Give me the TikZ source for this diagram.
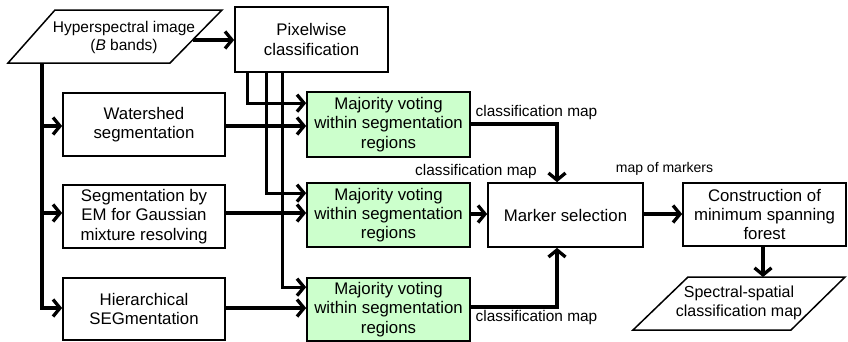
\documentclass[tikz,border=0pt]{standalone}
\usepackage{fontspec}
\setmainfont{Liberation Sans}
\usetikzlibrary{arrows.meta,calc}
\definecolor{vgreen}{HTML}{CCFFCC}
\begin{document}
\begin{tikzpicture}[x=1pt,y=-1pt,
  box/.style={draw=black,line width=1.7pt,rectangle,inner sep=0pt,align=center,
    font=\fontsize{16.8}{19.2}\selectfont},
  vote/.style={box,fill=vgreen},
  arr/.style={line width=3.3pt,-{Straight Barb[length=7pt,width=17pt]}},
  lbl/.style={font=\fontsize{15.4}{18}\selectfont,inner sep=0pt},
  pgram/.style={draw=black,line width=1.5pt,line join=miter}
]
\useasboundingbox (0,0) rectangle (848,341);
\fill[white] (0,0) rectangle (848,341);

% input parallelogram
\draw[pgram] (55,10) -- (222,10) -- (170,63) -- (8,63) -- cycle;
\node[align=center,inner sep=0pt,font=\fontsize{15.5}{18}\selectfont] (hs) at (124,37)
  {Hyperspectral image\\(\textit{B} bands)};
\coordinate (hsr) at (193,40);
\coordinate (hsb) at (42,63);

% boxes
\node[box,minimum width=153pt,minimum height=65pt] (pix) at (311.5,39.5) {Pixelwise\\classification};
\node[box,minimum width=162pt,minimum height=63pt] (ws) at (144,124.5) {Watershed\\segmentation};
\node[box,minimum width=162pt,minimum height=63pt] (em) at (144,216.5) {Segmentation by\\EM for Gaussian\\mixture resolving};
\node[box,minimum width=162pt,minimum height=62pt] (hseg) at (144,309) {Hierarchical\\SEGmentation};
\node[vote,minimum width=163pt,minimum height=65pt] (g1) at (388.5,124.5) {Majority voting\\within segmentation\\regions};
\node[vote,minimum width=163pt,minimum height=64pt] (g2) at (388.5,215) {Majority voting\\within segmentation\\regions};
\node[vote,minimum width=163pt,minimum height=63pt] (g3) at (388.5,309.5) {Majority voting\\within segmentation\\regions};
\node[box,minimum width=155pt,minimum height=64pt] (ms) at (565.5,215) {Marker selection};
\node[box,minimum width=163pt,minimum height=63pt] (con) at (764.5,214.5) {Construction of\\minimum spanning\\forest};

% output parallelogram
\draw[pgram] (688,277) -- (845,277) -- (791,330) -- (633,330) -- cycle;
\node[align=center,inner sep=0pt,font=\fontsize{16}{18.5}\selectfont] (out) at (739,303)
  {Spectral-spatial\\classification map};
\coordinate (outtop) at (763,277);

% connectors
\draw[arr] (hsr) -- (hsr -| pix.west);
\draw[arr] (hsb) |- ($(ws.west)+(0,1.5)$);
\draw[arr] (hsb) |- ($(em.west)+(0,-3.5)$);
\draw[arr] (hsb) |- ($(hseg.west)+(0,-1)$);

\draw[arr] ($(pix.south west)+(13,0)$) |- ($(g1.north west)+(0,12)$);
\draw[arr] ($(pix.south west)+(32,0)$) |- ($(g2.north west)+(0,11)$);
\draw[arr] ($(pix.south west)+(48,0)$) |- ($(g3.north west)+(0,10)$);

\draw[arr] ($(ws.east)+(0,1.5)$) -- ($(g1.west)+(0,1.5)$);
\draw[arr] ($(em.east)+(0,-3.5)$) -- ($(g2.west)+(0,-2)$);
\draw[arr] ($(hseg.east)+(0,-1)$) -- ($(g3.west)+(0,-1.5)$);

\draw[arr] ($(g1.east)+(0,-0.5)$) -| ($(ms.north)+(-8.5,0)$);
\draw[arr] ($(g2.east)+(0,-1)$) -- ($(ms.west)+(0,-1)$);
\draw[arr] ($(g3.east)+(0,-2.5)$) -| ($(ms.south)+(-8.5,0)$);
\draw[arr] ($(ms.east)+(0,-1)$) -- ($(con.west)+(0,-0.5)$);
\draw[arr] (con.south -| outtop) -- (outtop);

% labels
\node[lbl] (l1) at (536.5,113) {classification map};
\node[lbl] (l2) at (476,172) {classification map};
\node[lbl] (l3) at (536.5,318) {classification map};
\node[lbl,font=\fontsize{14}{16}\selectfont] (l4) at (664.5,169) {map of markers};
\end{tikzpicture}
\end{document}
